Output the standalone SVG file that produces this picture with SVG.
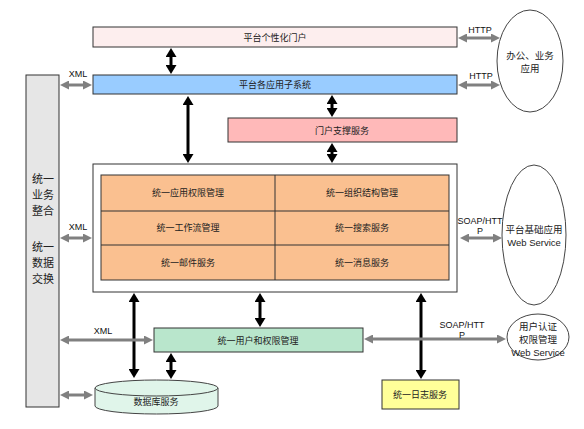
<svg xmlns="http://www.w3.org/2000/svg" width="584" height="429" viewBox="0 0 584 429">
<style>
.box{stroke:#333;stroke-width:1}
.t{font-family:"Noto Sans CJK SC","Liberation Sans",sans-serif;font-size:9px;fill:#222;text-anchor:middle}
.tl{font-family:"Noto Sans CJK SC",sans-serif;font-size:11px;fill:#222;text-anchor:middle}
.lab{font-family:"Liberation Sans",Arial,sans-serif;font-size:9px;fill:#111;text-anchor:middle}
.ws{font-family:"Liberation Sans","Noto Sans CJK SC",sans-serif;font-size:9.5px;fill:#222;text-anchor:middle}
.ba{stroke:#000;stroke-width:3;fill:none;marker-start:url(#bh);marker-end:url(#bh)}
.ga{stroke:#808080;stroke-width:3;fill:none;marker-start:url(#gh);marker-end:url(#gh)}
.ell{fill:#fff;stroke:#444;stroke-width:1}
</style>
<defs>
<marker id="bh" viewBox="0 0 9 11" refX="3" refY="5.5" markerWidth="9" markerHeight="11" markerUnits="userSpaceOnUse" orient="auto-start-reverse"><path d="M0,0 L9,5.5 L0,11 z" fill="#000"/></marker>
<marker id="gh" viewBox="0 0 10 10" refX="4" refY="5" markerWidth="9" markerHeight="9" markerUnits="userSpaceOnUse" orient="auto-start-reverse"><path d="M0,0 L10,5 L0,10 z" fill="#808080"/></marker>
</defs>
<rect width="584" height="429" fill="#fff"/>

<g id="left-bar"><rect class="box" x="26" y="75" width="33" height="332" fill="#e6e6e6"/>
<text class="tl" x="43" y="183">统一</text><text class="tl" x="43" y="199">业务</text><text class="tl" x="43" y="215">整合</text>
<text class="tl" x="43" y="251">统一</text><text class="tl" x="43" y="267">数据</text><text class="tl" x="43" y="283">交换</text></g>

<g id="portal"><rect class="box" x="93" y="27" width="364" height="20" fill="#fdeeee"/><text class="t" x="275" y="40.5">平台个性化门户</text></g>
<g id="subsystem"><rect class="box" x="93" y="75" width="364" height="19" fill="#99ccff"/><text class="t" x="275" y="88">平台各应用子系统</text></g>
<g id="portal-support"><rect class="box" x="228" y="118" width="229" height="24" fill="#ffb9b9"/><text class="t" x="342" y="133.5">门户支撑服务</text></g>

<g id="core"><rect class="box" x="93" y="164" width="364" height="128" fill="#fff"/>
<rect class="box" x="101" y="175" width="348" height="105" fill="#fac090"/>
<line x1="101" y1="211" x2="449" y2="211" stroke="#333"/><line x1="101" y1="245" x2="449" y2="245" stroke="#333"/><line x1="275" y1="175" x2="275" y2="280" stroke="#333"/>
<text class="t" x="188" y="196">统一应用权限管理</text><text class="t" x="362" y="196">统一组织结构管理</text>
<text class="t" x="188" y="231">统一工作流管理</text><text class="t" x="362" y="231">统一搜索服务</text>
<text class="t" x="188" y="266">统一邮件服务</text><text class="t" x="362" y="266">统一消息服务</text></g>

<g id="user-auth"><rect class="box" x="154" y="328" width="209" height="24" fill="#b9e6cc"/><text class="t" x="258" y="343.5">统一用户和权限管理</text></g>

<g id="database"><path d="M95,388 L95,406 A61.5,8 0 0 0 218,406 L218,388" fill="#e0f5ea" stroke="#444"/><ellipse cx="156.5" cy="388" rx="61.5" ry="8" fill="#e0f5ea" stroke="#444"/><text class="t" x="156" y="405">数据库服务</text></g>

<g id="log"><rect class="box" x="382" y="380" width="77" height="29" fill="#ffff99"/><text class="t" x="420" y="398">统一日志服务</text></g>

<g id="office-app"><ellipse class="ell" cx="530" cy="61" rx="33" ry="51"/><text class="ws" x="530" y="59">办公、业务</text><text class="ws" x="530" y="72">应用</text></g>
<g id="platform-ws"><ellipse class="ell" cx="534" cy="235" rx="32" ry="70"/><text class="ws" x="534" y="233">平台基础应用</text><text class="ws" x="534" y="246">Web Service</text></g>
<g id="auth-ws"><ellipse class="ell" cx="538" cy="337" rx="31" ry="23"/><text class="ws" x="538" y="330">用户认证</text><text class="ws" x="538" y="343">权限管理</text><text class="ws" x="538" y="356">Web Service</text></g>

<g id="connectors">
<line class="ba" x1="171" y1="54" x2="171" y2="68"/>
<line class="ba" x1="188" y1="102" x2="188" y2="157"/>
<line class="ba" x1="332" y1="101" x2="332" y2="111"/>
<line class="ba" x1="332" y1="149" x2="332" y2="157"/>
<line class="ba" x1="134" y1="299" x2="134" y2="372"/>
<line class="ba" x1="260" y1="299" x2="260" y2="321"/>
<line class="ba" x1="421" y1="299" x2="421" y2="373"/>
<line class="ba" x1="171" y1="359" x2="171" y2="373"/>
<line class="ga" x1="65.4" y1="85" x2="86.6" y2="85"/>
<line class="ga" x1="65.4" y1="238" x2="86.6" y2="238"/>
<line class="ga" x1="65.4" y1="340" x2="147.6" y2="340"/>
<line class="ga" x1="65.4" y1="395" x2="87.6" y2="395"/>
<line class="ga" x1="463.4" y1="38" x2="494.6" y2="38"/>
<line class="ga" x1="463.4" y1="85" x2="494.6" y2="85"/>
<line class="ga" x1="465.4" y1="238" x2="496.6" y2="238"/>
<line class="ga" x1="369.4" y1="339" x2="500.6" y2="339"/>
<text class="lab" x="78" y="77">XML</text>
<text class="lab" x="78" y="230">XML</text>
<text class="lab" x="103" y="334">XML</text>
<text class="lab" x="480" y="33">HTTP</text>
<text class="lab" x="481" y="79">HTTP</text>
<text class="lab" x="480" y="224">SOAP/HTT</text>
<text class="lab" x="480" y="234">P</text>
<text class="lab" x="462" y="328">SOAP/HTT</text>
<text class="lab" x="462" y="338">P</text>
</g>
</svg>
